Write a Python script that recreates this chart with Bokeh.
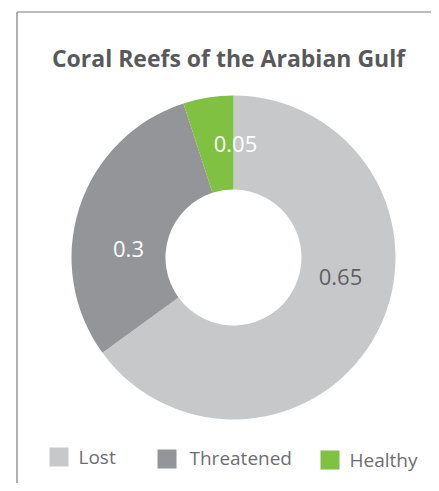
import math
from bokeh.plotting import figure
from bokeh.models import ColumnDataSource, Range1d
from bokeh.core.properties import value
from bokeh.embed import file_html
from bokeh.resources import INLINE

# ---- data ----
categories = ["Lost", "Threatened", "Healthy"]
shares = [0.65, 0.3, 0.05]
label_texts = ["0.65", "0.3", "0.05"]
colors = ["#c7c8ca", "#939598", "#80c141"]
title_text = "Coral Reefs of the Arabian Gulf"

# ---- layout (picture pixels) ----
W, H = 431, 483
TOP = 1000  # data y of the picture's top edge
CX, CY = 233, 257
R_OUT, R_IN = 162, 68
TXT_SHIFT = 9  # text renders slightly below its anchor

def py(y):  # picture y -> data y
    return TOP - y

def ty(y):  # picture baseline -> data y for text
    return TOP - (y - TXT_SHIFT)

p = figure(width=W, height=H, output_backend="svg", toolbar_location=None,
           x_range=Range1d(0, W), y_range=Range1d(TOP - H, TOP),
           x_axis_type=None, y_axis_type=None, min_border=0,
           background_fill_color="white", border_fill_color="white")
p.outline_line_color = None
p.grid.visible = False

# frame border (left and top, as in reference)
p.segment(x0=[16.5, 16.5], y0=[py(11.5), py(11.5)], x1=[16.5, 460], y1=[py(520), py(11.5)],
          line_color="#7a7b7d", line_width=1.2)

# donut wedges
total = sum(shares)
starts, ends = [], []
cum = 0.0
for v in shares:
    starts.append(math.pi / 2 - 2 * math.pi * cum / total)
    cum += v
    ends.append(math.pi / 2 - 2 * math.pi * cum / total)

src = ColumnDataSource(dict(cat=categories, share=shares, start=starts, end=ends, color=colors))
p.annular_wedge(x=CX, y=py(CY), inner_radius=R_IN, outer_radius=R_OUT,
                start_angle="start", end_angle="end", direction="clock",
                fill_color="color", line_color=None, source=src)

# value labels
label_pos = [(340, 285), (128, 257), (235, 152)]
label_colors = ["#5f6062", "white", "white"]
p.text(x=[q[0] for q in label_pos], y=[ty(q[1]) for q in label_pos], text=label_texts,
       text_color=label_colors, text_font=value("Open Sans"), text_font_size="22px",
       text_align="center", text_baseline="alphabetic")

# title
p.text(x=[228], y=[ty(66)], text=[title_text], text_color="#58595b",
       text_font=value("Open Sans"), text_font_style="bold", text_font_size="23px",
       text_align="center", text_baseline="alphabetic")

# legend
sq_pos = [(58.5, 456.5), (166.5, 458.5), (329.5, 459.5)]
p.rect(x=[q[0] for q in sq_pos], y=[py(q[1]) for q in sq_pos], width=19, height=19,
       fill_color=colors, line_color=None)
txt_pos = [(78, 465), (189, 466), (349, 468)]
p.text(x=[q[0] for q in txt_pos], y=[ty(q[1]) for q in txt_pos], text=categories,
       text_color="#6d6e71", text_font=value("Open Sans"), text_font_size="19px",
       text_align="left", text_baseline="alphabetic")

open("out.html", "w").write(file_html(p, INLINE))
